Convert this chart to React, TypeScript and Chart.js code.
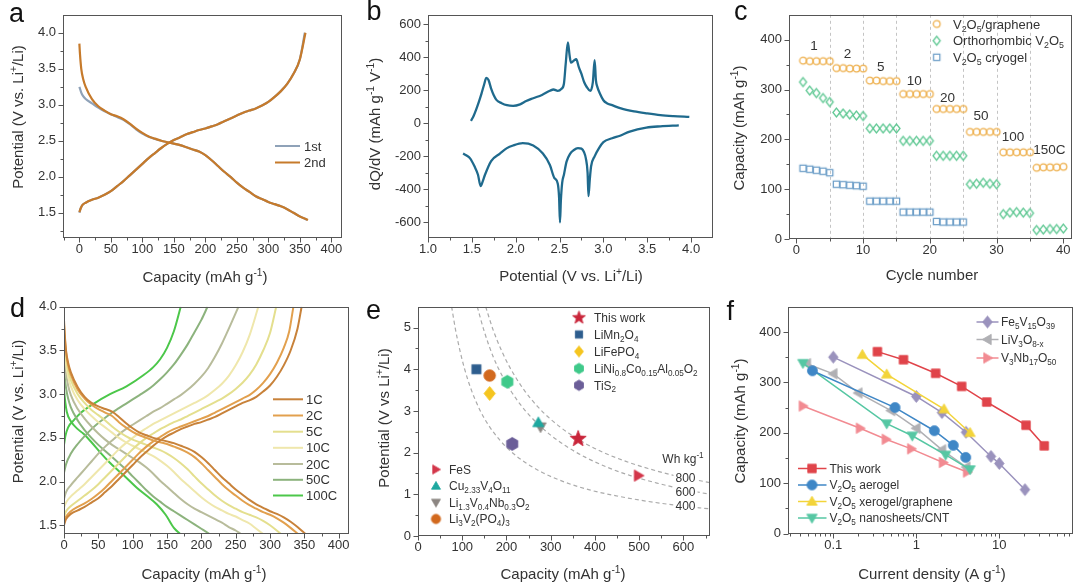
import React, { useEffect, useRef } from 'react';
import { Chart, registerables } from 'chart.js';
Chart.register(...registerables);

const FONT = "'Liberation Sans', Arial, Helvetica, sans-serif";
const FRAME = '#555555';
const TXT = '#333333';
const W = 360;
const H = 292;
type P = [number, number];

// ================= DATA =================
// Panel a: galvanostatic profiles (capacity mAh/g, potential V)
const a1stDischarge: P[] = [[0,3.25],[3,3.17],[6,3.12],[10,3.08],[20,3.02],[30,2.96],[40,2.91],[50,2.87],[60,2.83],[70,2.79],[80,2.73],[90,2.66],[100,2.6],[110,2.555],[120,2.525],[130,2.5],[140,2.48],[150,2.46],[160,2.44],[170,2.41],[180,2.38],[190,2.35],[200,2.3],[210,2.23],[220,2.15],[230,2.07],[240,2.0],[250,1.92],[260,1.85],[270,1.79],[280,1.73],[290,1.69],[300,1.65],[310,1.62],[320,1.59],[330,1.55],[340,1.5],[350,1.45],[362,1.4]];
const a1stCharge: P[] = [[0,1.5],[2,1.56],[5,1.61],[10,1.64],[20,1.68],[30,1.71],[40,1.75],[50,1.8],[60,1.87],[70,1.94],[80,2.02],[90,2.1],[100,2.18],[110,2.26],[120,2.33],[130,2.4],[140,2.46],[150,2.51],[160,2.55],[170,2.59],[180,2.62],[190,2.65],[200,2.67],[210,2.7],[220,2.73],[230,2.77],[240,2.81],[250,2.85],[260,2.89],[270,2.92],[280,2.95],[290,2.99],[300,3.04],[310,3.11],[320,3.19],[330,3.29],[340,3.43],[350,3.63],[358,4.0]];
const a2ndDischarge: P[] = [[0,3.85],[1,3.7],[3,3.5],[6,3.36],[10,3.25],[20,3.08],[30,2.98],[40,2.92],[50,2.87],[60,2.84],[70,2.8],[80,2.74],[90,2.67],[100,2.61],[110,2.56],[120,2.53],[130,2.5],[140,2.48],[150,2.46],[160,2.44],[170,2.41],[180,2.38],[190,2.35],[200,2.3],[210,2.23],[220,2.15],[230,2.07],[240,2.0],[250,1.92],[260,1.85],[270,1.79],[280,1.73],[290,1.69],[300,1.65],[310,1.62],[320,1.59],[330,1.55],[340,1.5],[350,1.45],[363,1.4]];
const a2ndCharge: P[] = [[0,1.51],[2,1.56],[5,1.61],[10,1.64],[20,1.68],[30,1.71],[40,1.75],[50,1.8],[60,1.87],[70,1.94],[80,2.02],[90,2.1],[100,2.18],[110,2.26],[120,2.33],[130,2.4],[140,2.46],[150,2.51],[160,2.55],[170,2.59],[180,2.62],[190,2.65],[200,2.67],[210,2.7],[220,2.73],[230,2.77],[240,2.81],[250,2.85],[260,2.89],[270,2.92],[280,2.95],[290,2.99],[300,3.04],[310,3.11],[320,3.19],[330,3.29],[340,3.43],[350,3.63],[359,4.0]];

// Panel b: dQ/dV (potential V, mAh g-1 V-1)
const bCharge: P[] = [[1.49,15],[1.52,45],[1.55,85],[1.58,130],[1.61,180],[1.64,235],[1.665,275],[1.69,262],[1.72,210],[1.75,170],[1.78,142],[1.84,122],[1.9,110],[1.97,106],[2.05,115],[2.12,135],[2.2,152],[2.3,172],[2.39,197],[2.43,205],[2.48,197],[2.52,208],[2.55,240],[2.57,358],[2.595,490],[2.615,410],[2.63,368],[2.66,378],[2.69,388],[2.72,340],[2.75,299],[2.78,250],[2.81,220],[2.85,197],[2.88,250],[2.9,382],[2.915,260],[2.93,222],[2.96,181],[3.0,140],[3.04,122],[3.1,110],[3.2,90],[3.35,72],[3.5,60],[3.65,50],[3.8,44],[3.98,39]];
const bDischarge: P[] = [[1.4,-183],[1.44,-195],[1.48,-212],[1.53,-260],[1.57,-311],[1.6,-380],[1.625,-350],[1.65,-311],[1.72,-228],[1.82,-183],[1.9,-150],[1.97,-134],[2.08,-120],[2.2,-134],[2.31,-183],[2.39,-252],[2.44,-330],[2.48,-365],[2.495,-450],[2.505,-600],[2.515,-470],[2.53,-360],[2.55,-311],[2.58,-232],[2.62,-185],[2.66,-163],[2.71,-150],[2.75,-153],[2.78,-175],[2.8,-212],[2.82,-300],[2.83,-441],[2.845,-340],[2.86,-260],[2.9,-200],[2.95,-150],[3.0,-114],[3.1,-90],[3.19,-75],[3.3,-50],[3.49,-26],[3.65,-18],[3.86,-12]];

// Panel c: rate capability (cycle number, capacity)
const cCycles = [1,2,3,4,5,6,7,8,9,10,11,12,13,14,15,16,17,18,19,20,21,22,23,24,25,26,27,28,29,30,31,32,33,34,35,36,37,38,39,40];
const cGraphene = [358,357,357,357,357,343,343,342,342,342,318,318,317,317,317,291,291,291,291,291,261,261,261,261,261,215,215,215,215,215,174,174,174,174,174,143,144,144,144,145];
const cOrtho = [315,298,293,283,275,254,252,250,248,247,222,222,222,222,222,197,197,197,197,197,167,167,167,167,167,110,111,113,111,110,50,53,54,53,52,18,19,20,20,21];
const cCryogel = [142,140,138,136,133,110,109,108,107,106,76,76,76,76,76,54,54,54,54,54,35,34,34,34,34];
const cRateLabels = ['1','2','5','10','20','50','100','150C'];
const cRateX = [2.65,7.65,12.65,17.65,22.65,27.65,32.45,37.9];
const cRateY = [388,373,346,319,285,248,207,181];
const cSeries = ['V_{2}O_{5}/graphene','Orthorhombic V_{2}O_{5}','V_{2}O_{5} cryogel'];

// Panel d: profiles at various rates
const dRates = ['1C','2C','5C','10C','20C','50C','100C'];
const d1CCharge: P[] = [[0,1.5],[3,1.57],[10,1.63],[20,1.67],[30,1.71],[40,1.76],[50,1.81],[60,1.88],[70,1.95],[80,2.03],[90,2.11],[100,2.19],[110,2.27],[120,2.34],[130,2.41],[140,2.47],[150,2.52],[160,2.56],[170,2.6],[180,2.63],[190,2.66],[200,2.68],[210,2.71],[220,2.74],[230,2.78],[240,2.82],[250,2.86],[260,2.9],[270,2.93],[280,2.97],[290,3.03],[300,3.1],[310,3.2],[320,3.33],[330,3.5],[340,3.75],[346,4.0]];
const d1CDischarge: P[] = [[0,3.85],[1,3.7],[3,3.5],[6,3.36],[10,3.25],[20,3.08],[30,2.97],[40,2.9],[50,2.86],[60,2.83],[70,2.8],[80,2.74],[90,2.67],[100,2.61],[110,2.56],[120,2.53],[130,2.5],[140,2.48],[150,2.46],[160,2.44],[170,2.41],[180,2.38],[190,2.34],[200,2.28],[210,2.21],[220,2.13],[230,2.05],[240,1.98],[250,1.91],[260,1.85],[270,1.79],[280,1.74],[290,1.7],[300,1.66],[310,1.63],[320,1.59],[330,1.54],[340,1.48],[352,1.4]];
const d2CCharge: P[] = [[0,1.55],[3,1.6],[10,1.66],[20,1.71],[30,1.75],[40,1.8],[50,1.86],[60,1.93],[70,2.01],[80,2.09],[90,2.17],[100,2.25],[110,2.33],[120,2.4],[130,2.46],[140,2.51],[150,2.56],[160,2.6],[170,2.63],[180,2.66],[190,2.69],[200,2.72],[210,2.75],[220,2.79],[230,2.83],[240,2.87],[250,2.91],[260,2.95],[270,2.99],[280,3.05],[290,3.13],[300,3.23],[310,3.36],[320,3.53],[328,3.72],[334,4.0]];
const d2CDischarge: P[] = [[0,3.8],[1,3.66],[3,3.48],[6,3.33],[10,3.22],[20,3.05],[30,2.95],[40,2.88],[50,2.83],[60,2.79],[70,2.75],[80,2.68],[90,2.62],[100,2.57],[110,2.53],[120,2.5],[130,2.47],[140,2.45],[150,2.43],[160,2.4],[170,2.37],[180,2.33],[190,2.28],[200,2.21],[210,2.13],[220,2.05],[230,1.97],[240,1.9],[250,1.84],[260,1.78],[270,1.73],[280,1.69],[290,1.65],[300,1.62],[310,1.58],[320,1.53],[330,1.47],[341,1.4]];
const d5CCharge: P[] = [[0,1.6],[3,1.66],[10,1.72],[20,1.78],[30,1.84],[40,1.9],[50,1.97],[60,2.05],[70,2.13],[80,2.21],[90,2.29],[100,2.37],[110,2.44],[120,2.5],[130,2.55],[140,2.6],[150,2.64],[160,2.68],[170,2.71],[180,2.75],[190,2.79],[200,2.83],[210,2.87],[220,2.91],[230,2.95],[240,3.0],[250,3.06],[260,3.13],[270,3.22],[280,3.34],[290,3.5],[300,3.7],[309,4.0]];
const d5CDischarge: P[] = [[0,3.7],[1,3.58],[3,3.42],[6,3.27],[10,3.16],[20,3.0],[30,2.9],[40,2.82],[50,2.76],[60,2.7],[70,2.63],[80,2.57],[90,2.52],[100,2.48],[110,2.45],[120,2.42],[130,2.39],[140,2.36],[150,2.32],[160,2.27],[170,2.21],[180,2.14],[190,2.06],[200,1.98],[210,1.91],[220,1.84],[230,1.78],[240,1.73],[250,1.69],[260,1.65],[270,1.62],[280,1.59],[290,1.55],[300,1.5],[316,1.4]];
const d10CCharge: P[] = [[0,1.7],[3,1.76],[10,1.83],[20,1.9],[30,1.97],[40,2.05],[50,2.13],[60,2.21],[70,2.29],[80,2.37],[90,2.44],[100,2.5],[110,2.56],[120,2.61],[130,2.66],[140,2.7],[150,2.74],[160,2.78],[170,2.82],[180,2.86],[190,2.9],[200,2.94],[210,2.99],[220,3.05],[230,3.12],[240,3.21],[250,3.33],[260,3.48],[270,3.67],[283,4.0]];
const d10CDischarge: P[] = [[0,3.6],[1,3.48],[3,3.34],[6,3.2],[10,3.09],[20,2.93],[30,2.83],[40,2.75],[50,2.68],[60,2.62],[70,2.56],[80,2.5],[90,2.45],[100,2.41],[110,2.37],[120,2.33],[130,2.29],[140,2.24],[150,2.18],[160,2.11],[170,2.03],[180,1.96],[190,1.89],[200,1.82],[210,1.76],[220,1.71],[230,1.67],[240,1.63],[250,1.6],[260,1.56],[270,1.52],[280,1.46],[290,1.4]];
const d20CCharge: P[] = [[0,1.8],[3,1.88],[10,1.96],[20,2.05],[30,2.14],[40,2.23],[50,2.32],[60,2.4],[70,2.47],[80,2.54],[90,2.6],[100,2.65],[110,2.7],[120,2.75],[130,2.8],[140,2.84],[150,2.89],[160,2.94],[170,2.99],[180,3.05],[190,3.12],[200,3.2],[210,3.3],[220,3.43],[230,3.58],[240,3.75],[254,4.0]];
const d20CDischarge: P[] = [[0,3.5],[1,3.38],[3,3.24],[6,3.1],[10,2.99],[20,2.83],[30,2.72],[40,2.63],[50,2.55],[60,2.48],[70,2.42],[80,2.37],[90,2.32],[100,2.27],[110,2.22],[120,2.16],[130,2.09],[140,2.01],[150,1.94],[160,1.87],[170,1.8],[180,1.74],[190,1.69],[200,1.65],[210,1.61],[220,1.57],[230,1.53],[240,1.48],[250,1.44],[258,1.4]];
const d50CCharge: P[] = [[0,2.1],[3,2.2],[10,2.32],[20,2.43],[30,2.52],[40,2.6],[50,2.67],[60,2.73],[70,2.79],[80,2.84],[90,2.89],[100,2.94],[110,2.99],[120,3.04],[130,3.1],[140,3.17],[150,3.25],[160,3.34],[170,3.45],[180,3.57],[190,3.71],[200,3.85],[209,4.0]];
const d50CDischarge: P[] = [[0,3.3],[1,3.2],[3,3.07],[6,2.95],[10,2.85],[20,2.7],[30,2.59],[40,2.5],[50,2.42],[60,2.35],[70,2.28],[80,2.21],[90,2.14],[100,2.06],[110,1.98],[120,1.9],[130,1.83],[140,1.77],[150,1.71],[160,1.66],[170,1.61],[180,1.56],[190,1.51],[200,1.46],[212,1.4]];
const d100CCharge: P[] = [[0,2.42],[2,2.52],[6,2.62],[14,2.7],[25,2.79],[43,2.89],[67,3.0],[91,3.09],[116,3.22],[130,3.31],[140,3.4],[150,3.53],[160,3.72],[170,4.0]];
const d100CDischarge: P[] = [[0,3.05],[2,2.9],[4,2.8],[10,2.69],[20,2.6],[28,2.55],[40,2.45],[52,2.34],[65,2.23],[77,2.14],[90,2.05],[106,1.93],[120,1.84],[135,1.74],[148,1.62],[160,1.47],[169,1.4]];

// Panel e: potential vs capacity of cathode materials
const eNames = ['This work','LiMn_{2}O_{4}','LiFePO_{4}','LiNi_{0.8}Co_{0.15}Al_{0.05}O_{2}','TiS_{2}','FeS','Cu_{2.33}V_{4}O_{11}','Li_{1.3}V_{0.4}Nb_{0.3}O_{2}','Li_{3}V_{2}(PO_{4})_{3}'];
const eCapacity = [362,132,162,202,213,498,272,277,162];
const ePotential = [2.33,4.0,3.42,3.7,2.21,1.45,2.72,2.62,3.85];
const eEnergyLabels = ['800','600','400'];
const e800: P[] = [[153,5.5],[170,4.94],[190,4.42],[210,4.0],[240,3.5],[270,3.11],[300,2.8],[340,2.47],[380,2.21],[420,2.0],[470,1.79],[520,1.62],[580,1.45],[660,1.28]];
const e600: P[] = [[134,5.5],[150,4.9],[170,4.3],[190,3.85],[210,3.48],[240,3.04],[270,2.7],[300,2.42],[340,2.12],[380,1.88],[430,1.64],[480,1.45],[540,1.27],[600,1.12],[660,1.0]];
const e400: P[] = [[76,5.5],[85,4.94],[95,4.44],[105,4.02],[120,3.52],[140,3.02],[160,2.65],[185,2.3],[210,2.03],[240,1.78],[280,1.53],[330,1.3],[390,1.1],[450,0.96],[520,0.83],[590,0.73],[660,0.65]];

// Panel f: capacity vs current density
const fNames = ['This work','V_{2}O_{5} aerogel','V_{2}O_{5} xerogel/graphene','V_{2}O_{5} nanosheets/CNT','Fe_{5}V_{15}O_{39}','LiV_{3}O_{8-x}','V_{3}Nb_{17}O_{50}'];
const fThisX = [0.34,0.7,1.71,3.52,7.05,21,34.8];
const fThisY = [361,345,318,292,261,215,174];
const fAeroX = [0.056,0.554,1.65,2.79,3.94];
const fAeroY = [323,250,204,175,151];
const fXeroX = [0.224,0.44,2.16,4.44];
const fXeroY = [355,316,247,200];
const fNanoX = [0.043,0.44,0.895,2.26,4.44];
const fNanoY = [338,218,194,156,127];
const fFeX = [0.1,1,2.04,3.97,7.94,10,20.4];
const fFeY = [350,272,240,201,153,139,87];
const fLiVX = [0.048,0.1,0.2,0.496,1,2.04,4];
const fLiVY = [337,317,279,244,209,166,132];
const fNbX = [0.043,0.21,0.43,0.87,2.1,4.1];
const fNbY = [253,209,187,168,141,122];

// Tick values
const aXMajor = [0,50,100,150,200,250,300,350,400];
const aXMinor = [-25,25,75,125,175,225,275,325,375];
const aYMajor = [1.5,2.0,2.5,3.0,3.5,4.0];
const aYMinor = [1.25,1.75,2.25,2.75,3.25,3.75];
const bXMajor = [1.0,1.5,2.0,2.5,3.0,3.5,4.0];
const bXMinor = [1.25,1.75,2.25,2.75,3.25,3.75];
const bYMajor = [-600,-400,-200,0,200,400,600];
const bYMinor = [-500,-300,-100,100,300,500];
const cXMajor = [0,10,20,30,40];
const cXMinor = [5,15,25,35];
const cYMajor = [0,100,200,300,400];
const cYMinor = [50,150,250,350];
const cGridX = [5,10,15,20,25,30,35];
const dXMajor = [0,50,100,150,200,250,300,350,400];
const dXMinor = [25,75,125,175,225,275,325,375];
const dYMajor = [1.5,2.0,2.5,3.0,3.5,4.0];
const dYMinor = [1.75,2.25,2.75,3.25,3.75];
const eXMajor = [0,100,200,300,400,500,600];
const eXMinor = [50,150,250,350,450,550,650];
const eYMajor = [0,1,2,3,4,5];
const eYMinor = [0.5,1.5,2.5,3.5,4.5];
const fXMajor = [0.1,1,10];
const fXMinor = [0.03,0.04,0.05,0.06,0.07,0.08,0.09,0.2,0.3,0.4,0.5,0.6,0.7,0.8,0.9,2,3,4,5,6,7,8,9,20,30,40,50,60,70];
const fYMajor = [0,100,200,300,400];
const fYMinor = [50,150,250,350];

// ================= HELPERS =================
const pts = (a: P[]) => a.map(([x, y]) => ({ x, y }));
const zip = (xs: number[], ys: number[]) => xs.map((x, i) => ({ x, y: ys[i] }));

function parseRich(s: string) {
  const out: { t: string; m: number }[] = [];
  let i = 0, buf = '';
  while (i < s.length) {
    const c = s[i];
    if ((c === '_' || c === '^') && s[i + 1] === '{') {
      if (buf) { out.push({ t: buf, m: 0 }); buf = ''; }
      const e = s.indexOf('}', i + 2);
      out.push({ t: s.slice(i + 2, e), m: c === '_' ? -1 : 1 });
      i = e + 1;
    } else { buf += c; i++; }
  }
  if (buf) out.push({ t: buf, m: 0 });
  return out;
}
function richWidth(ctx: CanvasRenderingContext2D, s: string, size: number) {
  let w = 0;
  for (const seg of parseRich(s)) {
    ctx.font = `${seg.m ? size * 0.68 : size}px ${FONT}`;
    w += ctx.measureText(seg.t).width;
  }
  return w;
}
function drawRich(ctx: CanvasRenderingContext2D, s: string, x: number, y: number, size: number, color: string, align: 'left' | 'center' | 'right' = 'left') {
  const w = richWidth(ctx, s, size);
  let cx = align === 'left' ? x : align === 'center' ? x - w / 2 : x - w;
  ctx.save();
  ctx.fillStyle = color;
  ctx.textAlign = 'left';
  ctx.textBaseline = 'alphabetic';
  for (const seg of parseRich(s)) {
    const fs = seg.m ? size * 0.68 : size;
    ctx.font = `${fs}px ${FONT}`;
    const dy = seg.m === -1 ? size * 0.24 : seg.m === 1 ? -size * 0.4 : 0;
    ctx.fillText(seg.t, cx, y + dy);
    cx += ctx.measureText(seg.t).width;
  }
  ctx.restore();
}

function poly(ctx: CanvasRenderingContext2D, cx: number, cy: number, r: number, startDeg: number, n: number) {
  for (let i = 0; i < n; i++) {
    const ang = ((startDeg + (360 / n) * i) * Math.PI) / 180;
    const px = cx + r * Math.cos(ang), py = cy + r * Math.sin(ang);
    if (i) ctx.lineTo(px, py); else ctx.moveTo(px, py);
  }
  ctx.closePath();
}
function shapePath(ctx: CanvasRenderingContext2D, shape: string, x: number, y: number, r: number) {
  ctx.beginPath();
  switch (shape) {
    case 'circle': ctx.arc(x, y, r, 0, Math.PI * 2); break;
    case 'square': ctx.rect(x - r * 0.82, y - r * 0.82, r * 1.64, r * 1.64); break;
    case 'diamond': ctx.moveTo(x, y - r); ctx.lineTo(x + r * 0.8, y); ctx.lineTo(x, y + r); ctx.lineTo(x - r * 0.8, y); ctx.closePath(); break;
    case 'triUp': poly(ctx, x, y + r * 0.12, r, -90, 3); break;
    case 'triDown': poly(ctx, x, y - r * 0.12, r, 90, 3); break;
    case 'triLeft': poly(ctx, x + r * 0.12, y, r, 180, 3); break;
    case 'triRight': poly(ctx, x - r * 0.12, y, r, 0, 3); break;
    case 'hexagon': poly(ctx, x, y, r, -90, 6); break;
    case 'star':
      for (let i = 0; i < 10; i++) {
        const rr = i % 2 ? r * 0.42 : r;
        const ang = ((-90 + 36 * i) * Math.PI) / 180;
        const px = x + rr * Math.cos(ang), py = y + rr * Math.sin(ang);
        if (i) ctx.lineTo(px, py); else ctx.moveTo(px, py);
      }
      ctx.closePath();
      break;
  }
}
function makeMarker(shape: string, r: number, fill: string | null, stroke: string | null, lw = 1) {
  const s = Math.ceil(2 * r + lw + 4);
  const c = document.createElement('canvas');
  c.width = s; c.height = s;
  const g = c.getContext('2d')!;
  shapePath(g, shape, s / 2, s / 2, r);
  if (fill) { g.fillStyle = fill; g.fill(); }
  if (stroke) { g.strokeStyle = stroke; g.lineWidth = lw; g.stroke(); }
  return c;
}
function putMarker(ctx: CanvasRenderingContext2D, m: HTMLCanvasElement, x: number, y: number) {
  ctx.drawImage(m, x - m.width / 2, y - m.height / 2);
}
function legLine(ctx: CanvasRenderingContext2D, x1: number, x2: number, y: number, color: string, w: number) {
  ctx.save();
  ctx.strokeStyle = color; ctx.lineWidth = w;
  ctx.beginPath(); ctx.moveTo(x1, y); ctx.lineTo(x2, y); ctx.stroke();
  ctx.restore();
}
const curve = (a: P[], color: string, w = 2) => ({
  data: pts(a), showLine: true, borderColor: color, borderWidth: w, pointRadius: 0,
  cubicInterpolationMode: 'monotone', fill: false,
});

// ================= PANEL SPECS =================
type Area = { l: number; t: number; r: number; b: number };
type AxisDef = { min: number; max: number; majors: number[]; minors: number[]; log?: boolean; fmt: (v: number) => string };
type Spec = {
  letter: string; lx: number; ly: number;
  left: number; top: number;
  area: Area; x: AxisDef; y: AxisDef;
  xTitle: [string, number, number];
  yTitle: [string, number, number];
  datasets: any[];
  under?: (ctx: CanvasRenderingContext2D, ch: any) => void;
  over?: (ctx: CanvasRenderingContext2D, ch: any) => void;
};

const f1 = (v: number) => v.toFixed(1);
const f0 = (v: number) => String(v);

const A_COL1 = '#8fa2b8';
const A_COL2 = '#c67a2b';
const B_COL = '#1f6a8d';
const C_COLS = ['#eeb04e', '#5fc893', '#6d9ec8'];
const D_COLS = ['#c8823a', '#e2a04e', '#e4df8e', '#efe7ac', '#b8bc9b', '#8cb37d', '#4cc74a'];
const E_COLS = ['#c9253a', '#2d5d8e', '#f5c51f', '#3fc98a', '#6b5e98', '#d3364a', '#1ea8a0', '#8c8682', '#d2691e'];
const E_SHAPES = ['star', 'square', 'diamond', 'hexagon', 'hexagon', 'triRight', 'triUp', 'triDown', 'circle'];
const E_R = [8.5, 5.6, 7, 6.5, 6.5, 6.5, 6.5, 6.5, 5.8];
const F_COLS = ['#e0444a', '#3f87c6', '#f3d43a', '#56c7a3', '#9a92bd', '#b0b0b4', '#f28b92'];
const F_SHAPES = ['square', 'circle', 'triUp', 'triDown', 'diamond', 'triLeft', 'triRight'];

function specA(): Spec {
  return {
    letter: 'a', lx: 9, ly: 22, left: 0, top: 0,
    area: { l: 63, t: 10, r: 342, b: 238 },
    x: { min: -26, max: 417, majors: aXMajor, minors: aXMinor, fmt: f0 },
    y: { min: 1.15, max: 4.25, majors: aYMajor, minors: aYMinor, fmt: f1 },
    xTitle: ['Capacity (mAh g^{-1})', 205, 281.5],
    yTitle: ['Potential (V vs. Li^{+}/Li)', 22.5, 117],
    // Chart.js paints dataset 0 on top, so the 2nd cycle is listed first
    datasets: [
      curve(a2ndDischarge, A_COL2, 2.2), curve(a2ndCharge, A_COL2, 2.2),
      curve(a1stDischarge, A_COL1, 2.2), curve(a1stCharge, A_COL1, 2.2),
    ],
    over: (ctx) => {
      legLine(ctx, 275, 300, 146, A_COL1, 2);
      drawRich(ctx, '1st', 304, 146 + 4.6, 13, TXT);
      legLine(ctx, 275, 300, 162.5, A_COL2, 2);
      drawRich(ctx, '2nd', 304, 162.5 + 4.6, 13, TXT);
    },
  };
}
function specB(): Spec {
  return {
    letter: 'b', lx: 6.5, ly: 20, left: 360, top: 0,
    area: { l: 68, t: 9.5, r: 353, b: 238 },
    x: { min: 1.0, max: 4.25, majors: bXMajor, minors: bXMinor, fmt: f1 },
    y: { min: -694, max: 657, majors: bYMajor, minors: bYMinor, fmt: f0 },
    xTitle: ['Potential (V vs. Li^{+}/Li)', 211, 280.5],
    yTitle: ['dQ/dV (mAh g^{-1} V^{-1})', 20, 124],
    datasets: [curve(bCharge, B_COL, 2.3), curve(bDischarge, B_COL, 2.3)],
  };
}
function specC(): Spec {
  const mk = [
    makeMarker('circle', 3.4, null, C_COLS[0], 1.3),
    makeMarker('diamond', 4.4, null, C_COLS[1], 1.3),
    makeMarker('square', 3.8, null, C_COLS[2], 1.3),
  ];
  const sc = (ys: number[], m: HTMLCanvasElement) => ({
    data: zip(cCycles.slice(0, ys.length), ys), showLine: false, pointStyle: m, pointRadius: 4,
  });
  return {
    letter: 'c', lx: 14, ly: 20, left: 720, top: 0,
    area: { l: 69, t: 10, r: 352, b: 239 },
    x: { min: -1.1, max: 41.3, majors: cXMajor, minors: cXMinor, fmt: f0 },
    y: { min: 0, max: 450, majors: cYMajor, minors: cYMinor, fmt: f0 },
    xTitle: ['Cycle number', 212, 280],
    yTitle: ['Capacity (mAh g^{-1})', 23.5, 128],
    datasets: [sc(cGraphene, mk[0]), sc(cOrtho, mk[1]), sc(cCryogel, mk[2])],
    under: (ctx, ch) => {
      const a = ch.chartArea; const xs = ch.scales.x;
      ctx.save();
      ctx.strokeStyle = '#c4c4c4'; ctx.lineWidth = 1; ctx.setLineDash([3, 3]);
      for (const v of cGridX) {
        const px = Math.round(xs.getPixelForValue(v)) + 0.5;
        ctx.beginPath(); ctx.moveTo(px, a.top); ctx.lineTo(px, a.bottom); ctx.stroke();
      }
      ctx.restore();
    },
    over: (ctx, ch) => {
      const rows = [24, 40.7, 57.3];
      cSeries.forEach((n, i) => {
        putMarker(ctx, mk[i], 216.7, rows[i]);
        drawRich(ctx, n, 233, rows[i] + 4.6, 13, TXT);
      });
      const xs = ch.scales.x, ys = ch.scales.y;
      cRateLabels.forEach((t, i) => {
        drawRich(ctx, t, xs.getPixelForValue(cRateX[i]), ys.getPixelForValue(cRateY[i]) + 4.8, 13.5, TXT, 'center');
      });
    },
  };
}
function specD(): Spec {
  const pairs: [P[], P[]][] = [
    [d1CCharge, d1CDischarge], [d2CCharge, d2CDischarge], [d5CCharge, d5CDischarge],
    [d10CCharge, d10CDischarge], [d20CCharge, d20CDischarge], [d50CCharge, d50CDischarge],
    [d100CCharge, d100CDischarge],
  ];
  const ds: any[] = [];
  pairs.forEach(([c, d], i) => { ds.push(curve(c, D_COLS[i], 2)); ds.push(curve(d, D_COLS[i], 2)); });
  return {
    letter: 'd', lx: 10, ly: 25, left: 0, top: 292,
    area: { l: 64, t: 12, r: 349, b: 242 },
    x: { min: 0, max: 415, majors: dXMajor, minors: dXMinor, fmt: f0 },
    y: { min: 1.4, max: 4.0, majors: dYMajor, minors: dYMinor, fmt: f1 },
    xTitle: ['Capacity (mAh g^{-1})', 204, 286.5],
    yTitle: ['Potential (V vs. Li^{+}/Li)', 22.5, 119.5],
    datasets: ds,
    over: (ctx) => {
      const rows = [107.3, 123.5, 139.7, 155.8, 172, 187.8, 203.5];
      dRates.forEach((n, i) => {
        legLine(ctx, 273, 303, rows[i], D_COLS[i], 2);
        drawRich(ctx, n, 306, rows[i] + 4.6, 13, TXT);
      });
    },
  };
}
function specE(): Spec {
  const mk = E_SHAPES.map((s, i) => makeMarker(s, E_R[i], E_COLS[i], E_COLS[i], 0.8));
  const mkLeg = E_SHAPES.map((s, i) => makeMarker(s, E_R[i] * 0.8, E_COLS[i], E_COLS[i], 0.8));
  const dash = (a: P[]) => ({ ...curve(a, '#ababab', 1.2), borderDash: [4, 3] });
  const pointsDs = eNames.map((_, i) => ({
    data: [{ x: eCapacity[i], y: ePotential[i] }], showLine: false, pointStyle: mk[i], pointRadius: 5,
  }));
  return {
    letter: 'e', lx: 6, ly: 26.5, left: 360, top: 292,
    area: { l: 58, t: 12, r: 350, b: 244 },
    x: { min: 0, max: 660, majors: eXMajor, minors: eXMinor, fmt: f0 },
    y: { min: 0, max: 5.5, majors: eYMajor, minors: eYMinor, fmt: f0 },
    xTitle: ['Capacity (mAh g^{-1})', 203, 286.5],
    yTitle: ['Potential (V vs Li^{+}/Li)', 29, 126],
    datasets: [...pointsDs, dash(e800), dash(e600), dash(e400)],
    over: (ctx) => {
      const top = [25.7, 42.5, 59.5, 76.5, 93.3];
      for (let i = 0; i < 5; i++) {
        putMarker(ctx, mkLeg[i], 219, top[i]);
        drawRich(ctx, eNames[i], 234, top[i] + 4.3, 12, TXT);
      }
      const bot = [177.5, 194, 210.5, 227];
      for (let i = 5; i < 9; i++) {
        putMarker(ctx, mkLeg[i], 76, bot[i - 5]);
        drawRich(ctx, eNames[i], 89, bot[i - 5] + 4.3, 12, TXT);
      }
      const ly = [185.3, 199.7, 213.7];
      eEnergyLabels.forEach((t, i) => {
        ctx.save();
        ctx.font = `12px ${FONT}`;
        const w = ctx.measureText(t).width;
        ctx.fillStyle = '#ffffff';
        ctx.fillRect(325.5 - w / 2 - 2, ly[i] - 6, w + 4, 12);
        ctx.restore();
        drawRich(ctx, t, 325.5, ly[i] + 4.2, 12, TXT, 'center');
      });
      drawRich(ctx, 'Wh kg^{-1}', 323, 170.5, 12, TXT, 'center');
    },
  };
}
function specF(): Spec {
  const mk = F_SHAPES.map((s, i) => makeMarker(s, s === 'square' ? 5.2 : s === 'circle' ? 5 : 6, F_COLS[i], F_COLS[i], 0.8));
  const xsArr = [fThisX, fAeroX, fXeroX, fNanoX, fFeX, fLiVX, fNbX];
  const ysArr = [fThisY, fAeroY, fXeroY, fNanoY, fFeY, fLiVY, fNbY];
  const ds = xsArr.map((xs, i) => ({
    data: zip(xs, ysArr[i]), showLine: true, borderColor: F_COLS[i], borderWidth: 1.5,
    pointStyle: mk[i], pointRadius: 5, fill: false,
  }));
  return {
    letter: 'f', lx: 6.5, ly: 28, left: 720, top: 292,
    area: { l: 68, t: 12, r: 353, b: 241.5 },
    x: { min: 0.02845, max: 77.3, majors: fXMajor, minors: fXMinor, log: true, fmt: (v) => (v < 1 ? String(v) : String(Math.round(v))) },
    y: { min: 0, max: 450, majors: fYMajor, minors: fYMinor, fmt: f0 },
    xTitle: ['Current density (A g^{-1})', 212, 287],
    yTitle: ['Capacity (mAh g^{-1})', 25, 129],
    datasets: ds,
    over: (ctx) => {
      const up = [30, 47.5, 66];
      for (let i = 4; i < 7; i++) {
        const y = up[i - 4];
        legLine(ctx, 256.5, 278.5, y, F_COLS[i], 1.5);
        putMarker(ctx, mk[i], 267.5, y);
        drawRich(ctx, fNames[i], 281, y + 4.3, 12, TXT);
      }
      const lo = [176.5, 193, 209.5, 226];
      for (let i = 0; i < 4; i++) {
        const y = lo[i];
        legLine(ctx, 78, 106.5, y, F_COLS[i], 1.5);
        putMarker(ctx, mk[i], 92, y);
        drawRich(ctx, fNames[i], 109.5, y + 4.3, 12, TXT);
      }
    },
  };
}

// ================= CHART BUILD =================
function axisOpts(ax: AxisDef, isX: boolean, area: Area) {
  return {
    type: ax.log ? 'logarithmic' : 'linear',
    position: isX ? 'bottom' : 'left',
    min: ax.min,
    max: ax.max,
    bounds: 'data',
    grid: { display: false, drawTicks: false },
    border: { display: false },
    title: { display: false },
    ticks: {
      autoSkip: false, maxRotation: 0, minRotation: 0,
      padding: isX ? 4 : 7,
      color: TXT,
      font: { family: FONT, size: 13 },
      callback: (v: any) => ax.fmt(Number(v)),
    },
    afterBuildTicks: (s: any) => { s.ticks = ax.majors.map((v) => ({ value: v })); },
    afterFit: (s: any) => { if (isX) s.height = H - area.b; else s.width = area.l; },
  };
}

function buildConfig(spec: Spec): any {
  const deco = {
    id: 'deco',
    beforeDatasetsDraw(ch: any) { if (spec.under) spec.under(ch.ctx, ch); },
    afterDatasetsDraw(ch: any) {
      const ctx: CanvasRenderingContext2D = ch.ctx;
      const a = ch.chartArea;
      const xs = ch.scales.x, ys = ch.scales.y;
      ctx.save();
      ctx.strokeStyle = FRAME;
      ctx.lineWidth = 1;
      const L = Math.round(a.left) + 0.5, R = Math.round(a.right) - 0.5;
      const T = Math.round(a.top) + 0.5, B = Math.round(a.bottom) - 0.5;
      ctx.strokeRect(L, T, R - L, B - T);
      ctx.beginPath();
      const xt = (v: number, len: number) => {
        const p = xs.getPixelForValue(v);
        if (p < a.left - 0.5 || p > a.right + 0.5) return;
        const px = Math.round(p) + 0.5;
        ctx.moveTo(px, B); ctx.lineTo(px, B + len);
      };
      const yt = (v: number, len: number) => {
        const p = ys.getPixelForValue(v);
        if (p < a.top - 0.5 || p > a.bottom + 0.5) return;
        const py = Math.round(p) + 0.5;
        ctx.moveTo(L, py); ctx.lineTo(L - len, py);
      };
      spec.x.majors.forEach((v) => xt(v, 5));
      spec.x.minors.forEach((v) => xt(v, 3));
      spec.y.majors.forEach((v) => yt(v, 5));
      spec.y.minors.forEach((v) => yt(v, 3));
      ctx.stroke();
      ctx.restore();

      drawRich(ctx, spec.xTitle[0], spec.xTitle[1], spec.xTitle[2], 15, TXT, 'center');
      ctx.save();
      ctx.translate(spec.yTitle[1], spec.yTitle[2]);
      ctx.rotate(-Math.PI / 2);
      drawRich(ctx, spec.yTitle[0], 0, 0, 15, TXT, 'center');
      ctx.restore();

      ctx.save();
      ctx.fillStyle = '#111111';
      ctx.font = `27px ${FONT}`;
      ctx.textBaseline = 'alphabetic';
      ctx.textAlign = 'left';
      ctx.fillText(spec.letter, spec.lx, spec.ly);
      ctx.restore();

      if (spec.over) spec.over(ctx, ch);
    },
  };
  return {
    type: 'scatter',
    data: { datasets: spec.datasets },
    options: {
      animation: false,
      responsive: false,
      maintainAspectRatio: false,
      devicePixelRatio: 1,
      events: [],
      layout: { padding: { left: 0, top: spec.area.t, right: W - spec.area.r, bottom: 0 } },
      plugins: { legend: { display: false }, tooltip: { enabled: false }, title: { display: false } },
      scales: { x: axisOpts(spec.x, true, spec.area), y: axisOpts(spec.y, false, spec.area) },
    },
    plugins: [deco],
  };
}

const SPECS: (() => Spec)[] = [specA, specB, specC, specD, specE, specF];
const POS = [[0, 0], [360, 0], [720, 0], [0, 292], [360, 292], [720, 292]];

function Panel({ idx }: { idx: number }) {
  const ref = useRef<HTMLCanvasElement>(null);
  useEffect(() => {
    const chart = new Chart(ref.current as HTMLCanvasElement, buildConfig(SPECS[idx]()));
    return () => chart.destroy();
  }, [idx]);
  return (
    <canvas
      ref={ref}
      width={W}
      height={H}
      style={{ position: 'absolute', left: POS[idx][0], top: POS[idx][1], width: W, height: H }}
    />
  );
}

export default function App() {
  return (
    <div style={{ position: 'absolute', left: 0, top: 0, width: 1080, height: 584, background: '#ffffff', overflow: 'hidden' }}>
      {SPECS.map((_, i) => <Panel key={i} idx={i} />)}
    </div>
  );
}
